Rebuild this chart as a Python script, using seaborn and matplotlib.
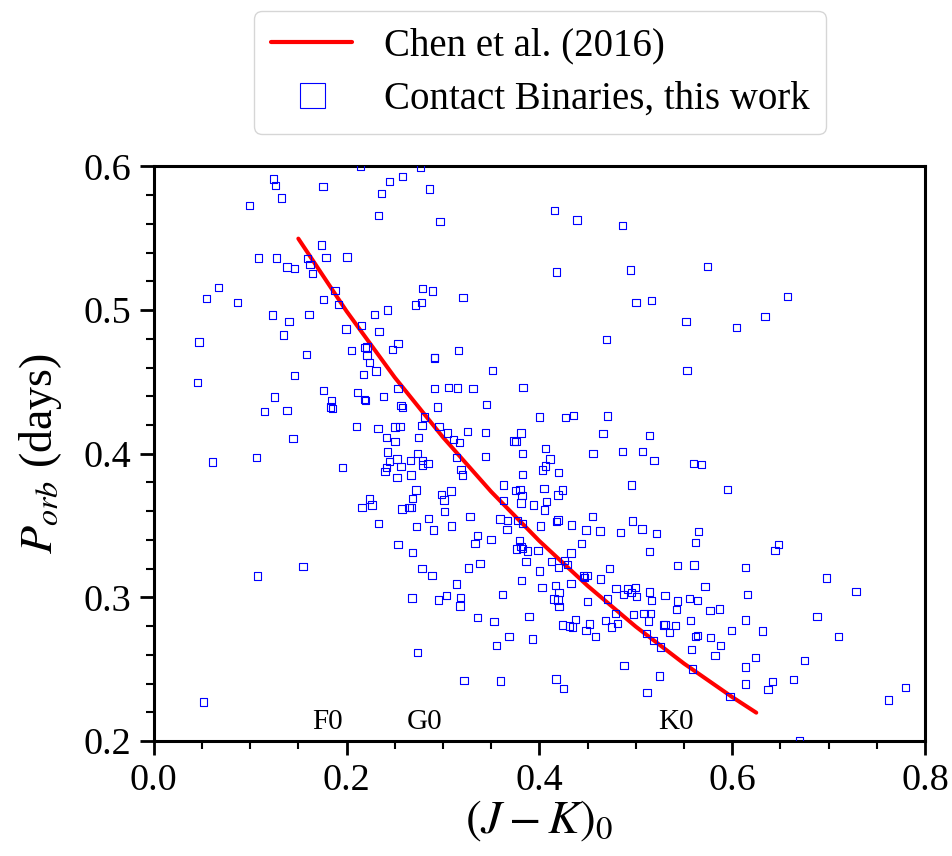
import matplotlib
matplotlib.use("Agg")
import matplotlib.pyplot as plt
import seaborn as sns
import pandas as pd
from matplotlib.lines import Line2D
from matplotlib.ticker import MultipleLocator

# ---------------- data ----------------
jk_color = [
    0.2147, 0.1245, 0.1266, 0.1756, 0.2583, 0.2444, 0.2365, 0.1324, 0.0996, 0.2330,
    0.1743, 0.1085, 0.1276, 0.1593, 0.1787, 0.2005, 0.1383, 0.1463, 0.1621, 0.1649,
    0.0670, 0.0550, 0.0867, 0.1881, 0.1763, 0.1919, 0.1230, 0.1404, 0.1611, 0.2293,
    0.2427, 0.1345, 0.2158, 0.1995, 0.2337, 0.0470, 0.2534, 0.2475, 0.2050, 0.2192,
    0.2213, 0.1587, 0.2213,
    0.2770, 0.2859, 0.2970, 0.4156, 0.4391, 0.4865, 0.4176, 0.4944, 0.2790, 0.2894,
    0.2780, 0.2718, 0.3209, 0.5003, 0.5162, 0.4695, 0.3160, 0.2911,
    0.5747, 0.6577, 0.6341, 0.5522, 0.6048,
    0.2237, 0.2306, 0.2178, 0.0452, 0.1463, 0.1763, 0.2116, 0.2195, 0.2189, 0.2386,
    0.2534, 0.1251, 0.1846, 0.1836, 0.1857, 0.1383, 0.1151, 0.2565, 0.2583, 0.2106,
    0.2327, 0.2503, 0.2555, 0.2417, 0.2503, 0.1445, 0.2423, 0.2444, 0.2524, 0.2565,
    0.2417, 0.2399, 0.2524, 0.0612, 0.1068, 0.1961, 0.2241, 0.2265, 0.2161, 0.2576,
    0.2334, 0.2534,
    0.2911, 0.3517, 0.2915, 0.3060, 0.3154, 0.3312, 0.3831, 0.2946, 0.3450, 0.4004,
    0.4270, 0.4357, 0.4706, 0.2807, 0.2783, 0.2960, 0.2749, 0.3050, 0.3253, 0.3444,
    0.3810, 0.4661, 0.5145, 0.3112, 0.3170, 0.3738, 0.3758, 0.4066, 0.4557, 0.4861,
    0.5069, 0.5190, 0.2739, 0.3444, 0.3828, 0.3143, 0.2666, 0.2790, 0.2845, 0.2790,
    0.4111, 0.4062, 0.4035, 0.4201, 0.3188, 0.3205, 0.3828, 0.2669, 0.4954, 0.3631,
    0.2721, 0.3084, 0.2988, 0.3755, 0.3800, 0.4049, 0.4243, 0.4194, 0.3821, 0.3011,
    0.2687, 0.3631, 0.3810, 0.3942, 0.4077, 0.4056, 0.2648, 0.2676, 0.3019, 0.3281,
    0.2853, 0.3592, 0.3672, 0.3772, 0.3828, 0.4015, 0.4176, 0.4194, 0.4336, 0.4553,
    0.4485, 0.4630, 0.4840, 0.4969, 0.5065, 0.5218, 0.2728, 0.2900, 0.3091, 0.3665,
    0.3361, 0.3333, 0.3499, 0.3797, 0.4440, 0.3810, 0.3766, 0.3824, 0.3880, 0.3987,
    0.4329, 0.5145, 0.2687,
    0.5532, 0.5598, 0.5685, 0.5950, 0.5654, 0.5622, 0.6483, 0.6445,
    0.1075, 0.1549, 0.0519,
    0.2783, 0.2887, 0.3268, 0.3385, 0.3862, 0.4124, 0.4264, 0.4291, 0.4004, 0.4201,
    0.3813, 0.3143, 0.4028, 0.4170, 0.4329, 0.4461, 0.4495, 0.4467, 0.4633, 0.4726,
    0.2680, 0.2956, 0.3039, 0.3185, 0.3177, 0.3620, 0.4204, 0.4152, 0.4194, 0.4204,
    0.4498, 0.4706, 0.4796, 0.4913, 0.4996, 0.4876, 0.4954, 0.5010, 0.5141, 0.5162,
    0.5304, 0.3357, 0.3530, 0.3893, 0.4378, 0.4243, 0.4311, 0.4346, 0.4519, 0.4485,
    0.4585, 0.4685, 0.4813, 0.4751, 0.4793, 0.4975, 0.5086, 0.5156, 0.5135, 0.5286,
    0.5114, 0.5183, 0.5259, 0.3686, 0.3927, 0.3554, 0.2739, 0.4879, 0.5249, 0.3219,
    0.3595, 0.4173, 0.4249, 0.5117,
    0.5432, 0.5605, 0.6141, 0.6981, 0.5719, 0.7285, 0.5560, 0.5643, 0.6158, 0.5432,
    0.5425, 0.5771, 0.5867, 0.6881, 0.5304, 0.5349, 0.5411, 0.5571, 0.6141, 0.5996,
    0.6317, 0.5618, 0.5643, 0.5774, 0.7102, 0.5882, 0.5581, 0.5823, 0.6241, 0.6753,
    0.6141, 0.5591, 0.6141, 0.6421, 0.6373, 0.6639, 0.5978, 0.7797, 0.7624, 0.6697,
]

p_orb = [
    0.6000, 0.5912, 0.5865, 0.5861, 0.5928, 0.5893, 0.5809, 0.5779, 0.5726, 0.5659,
    0.5452, 0.5362, 0.5362, 0.5357, 0.5364, 0.5369, 0.5299, 0.5287, 0.5318, 0.5253,
    0.5155, 0.5082, 0.5051, 0.5134, 0.5074, 0.5040, 0.4965, 0.4918, 0.4970, 0.4970,
    0.5000, 0.4826, 0.4891, 0.4868, 0.4849, 0.4777, 0.4768, 0.4724, 0.4720, 0.4740,
    0.4742, 0.4689, 0.4682,
    0.5993, 0.5842, 0.5615, 0.5691, 0.5626, 0.5587, 0.5265, 0.5278, 0.5151, 0.5132,
    0.5051, 0.5035, 0.5086, 0.5051, 0.5065, 0.4796, 0.4717, 0.4671,
    0.5302, 0.5093, 0.4956, 0.4918, 0.4877,
    0.4636, 0.4575, 0.4550, 0.4494, 0.4543, 0.4441, 0.4425, 0.4372, 0.4379, 0.4397,
    0.4455, 0.4395, 0.4372, 0.4325, 0.4316, 0.4300, 0.4293, 0.4334, 0.4323, 0.4188,
    0.4174, 0.4186, 0.4188, 0.4114, 0.4083, 0.4105, 0.4012, 0.3947, 0.3963, 0.3910,
    0.3903, 0.3875, 0.3833, 0.3942, 0.3975, 0.3903, 0.3685, 0.3643, 0.3624, 0.3615,
    0.3513, 0.3367,
    0.4666, 0.4578, 0.4453, 0.4462, 0.4457, 0.4455, 0.4460, 0.4325, 0.4341, 0.4256,
    0.4251, 0.4267, 0.4262, 0.4256, 0.4195, 0.4188, 0.4112, 0.4144, 0.4154, 0.4149,
    0.4144, 0.4140, 0.4128, 0.4098, 0.4077, 0.4089, 0.4084, 0.4035, 0.4003, 0.4017,
    0.4017, 0.3952, 0.4000, 0.3979, 0.4000, 0.3975, 0.3952, 0.3952, 0.3933, 0.3922,
    0.3963, 0.3915, 0.3887, 0.3868, 0.3892, 0.3852, 0.3857, 0.3852, 0.3783, 0.3783,
    0.3748, 0.3741, 0.3718, 0.3746, 0.3753, 0.3760, 0.3748, 0.3713, 0.3708, 0.3678,
    0.3690, 0.3674, 0.3657, 0.3643, 0.3666, 0.3609, 0.3627, 0.3627, 0.3597, 0.3565,
    0.3548, 0.3546, 0.3534, 0.3534, 0.3516, 0.3497, 0.3527, 0.3539, 0.3505, 0.3565,
    0.3470, 0.3463, 0.3451, 0.3532, 0.3477, 0.3447, 0.3493, 0.3470, 0.3497, 0.3472,
    0.3430, 0.3374, 0.3402, 0.3395, 0.3374, 0.3356, 0.3336, 0.3341, 0.3323, 0.3328,
    0.3310, 0.3319, 0.3314,
    0.4578, 0.3933, 0.3926, 0.3753, 0.3461, 0.3382, 0.3370, 0.3326,
    0.3150, 0.3217, 0.2273,
    0.3203, 0.3152, 0.3205, 0.3235, 0.3249, 0.3252, 0.3256, 0.3231, 0.3185, 0.3208,
    0.3117, 0.3094, 0.3071, 0.3082, 0.3099, 0.3149, 0.3152, 0.3138, 0.3129, 0.3203,
    0.2997, 0.2983, 0.3012, 0.3001, 0.2941, 0.3022, 0.3036, 0.2989, 0.2983, 0.2936,
    0.2971, 0.2988, 0.3064, 0.3059, 0.3068, 0.3022, 0.3033, 0.3006, 0.3038, 0.2978,
    0.3015, 0.2862, 0.2832, 0.2869, 0.2848, 0.2809, 0.2802, 0.2795, 0.2816, 0.2769,
    0.2727, 0.2841, 0.2820, 0.2793, 0.2890, 0.2883, 0.2890, 0.2890, 0.2835, 0.2809,
    0.2751, 0.2700, 0.2656, 0.2727, 0.2711, 0.2665, 0.2616, 0.2526, 0.2452, 0.2423,
    0.2418, 0.2432, 0.2366, 0.2338,
    0.3224, 0.3226, 0.3210, 0.3136, 0.3078, 0.3040, 0.2992, 0.2978, 0.3022, 0.2974,
    0.2918, 0.2909, 0.2920, 0.2867, 0.2811, 0.2756, 0.2806, 0.2841, 0.2843, 0.2772,
    0.2767, 0.2727, 0.2737, 0.2721, 0.2727, 0.2665, 0.2637, 0.2595, 0.2581, 0.2561,
    0.2515, 0.2501, 0.2398, 0.2414, 0.2359, 0.2428, 0.2310, 0.2373, 0.2287, 0.2000,
]

# Chen et al. (2016) relation
chen_jk = [0.150, 0.200, 0.250, 0.300, 0.350, 0.400, 0.450, 0.500, 0.550, 0.600, 0.625]
chen_p = [0.5497, 0.4992, 0.4531, 0.4115, 0.3736, 0.3393, 0.3081, 0.2797, 0.2540, 0.2307, 0.2198]

spectral_labels = ["F0", "G0", "K0"]
spectral_jk = [0.180, 0.281, 0.542]

x_ticks = [0.0, 0.2, 0.4, 0.6, 0.8]
y_ticks = [0.2, 0.3, 0.4, 0.5, 0.6]

# ---------------- style ----------------
sns.set_style("ticks")
plt.rcParams["font.family"] = ["Liberation Serif", "DejaVu Serif"]
plt.rcParams["mathtext.fontset"] = "stix"
plt.rcParams["text.color"] = "black"
plt.rcParams["axes.labelcolor"] = "black"
plt.rcParams["xtick.color"] = "black"
plt.rcParams["ytick.color"] = "black"

fig = plt.figure(figsize=(9.53, 8.56), dpi=100)
ax = fig.add_axes([0.1613, 0.1342, 0.9706 - 0.1613, 0.8057 - 0.1342])

df_pts = pd.DataFrame({"jk": jk_color, "p": p_orb})
df_chen = pd.DataFrame({"jk": chen_jk, "p": chen_p})

sns.lineplot(data=df_chen, x="jk", y="p", color="red", linewidth=2.9, ax=ax,
             sort=False, estimator=None, zorder=2)
sns.scatterplot(data=df_pts, x="jk", y="p", marker="s", s=28, ax=ax, zorder=3,
                linewidth=0.8)
coll = ax.collections[-1]
coll.set_facecolor("none")
coll.set_edgecolor("#0000ff")
coll.set_clip_on(True)

for lab, xv in zip(spectral_labels, spectral_jk):
    ax.text(xv, 0.2135, lab, ha="center", va="center", fontsize=21, color="black")

ax.set_xlim(0.0, 0.8)
ax.set_ylim(0.2, 0.6)
ax.set_xticks(x_ticks)
ax.set_yticks(y_ticks)
ax.set_xticklabels([f"{v:.1f}" for v in x_ticks])
ax.set_yticklabels([f"{v:.1f}" for v in y_ticks])
ax.xaxis.set_minor_locator(MultipleLocator(0.05))
ax.yaxis.set_minor_locator(MultipleLocator(0.02))
ax.tick_params(axis="both", which="major", direction="out", length=10, width=2,
               labelsize=27.5, colors="black", pad=6)
ax.tick_params(axis="both", which="minor", direction="out", length=6, width=1.5,
               colors="black")
for sp in ax.spines.values():
    sp.set_linewidth(2.2)
    sp.set_color("black")
    sp.set_visible(True)

ax.set_xlabel(r"$(J-K)_0$", fontsize=34, labelpad=0)
ax.set_ylabel(r"$P_{orb}$ (days)", fontsize=33, labelpad=14)

handles = [
    Line2D([], [], color="red", lw=3),
    Line2D([], [], marker="s", ls="none", mfc="none", mec="#0000ff", ms=18, mew=0.8),
]
labels = ["Chen et al. (2016)", "Contact Binaries, this work"]
fig.legend(handles, labels, loc="lower center", bbox_to_anchor=(0.5666, 0.8435),
           borderaxespad=0.0, fontsize=28, frameon=True, fancybox=True,
           edgecolor="#cccccc", handlelength=2.1, borderpad=0.42,
           labelspacing=0.42, handletextpad=0.8)

fig.savefig("out.png", dpi=100, facecolor="white")
